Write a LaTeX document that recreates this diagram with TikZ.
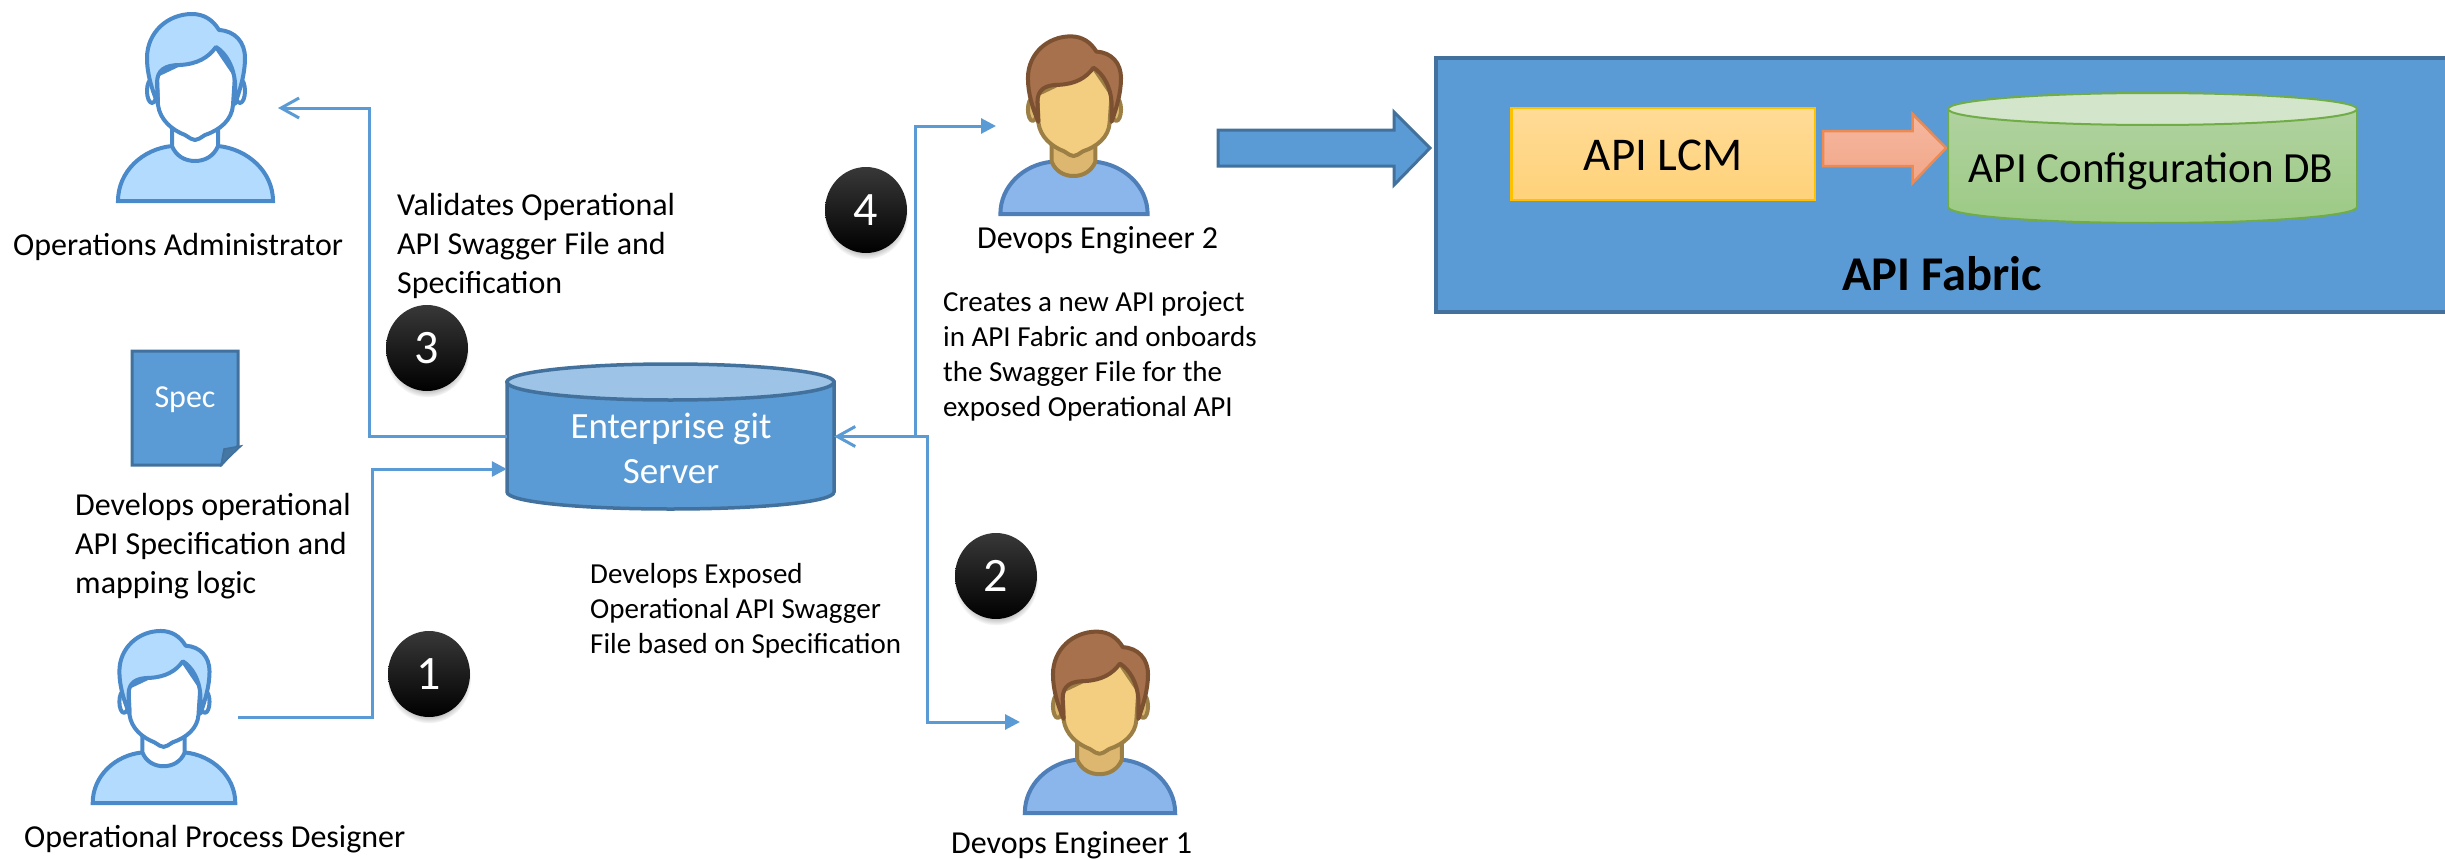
\documentclass[tikz,border=0pt]{standalone}
\usepackage{fontspec}
\setmainfont{Carlito}
\usetikzlibrary{arrows.meta,shapes.geometric,shadows,calc}
\definecolor{flow}{HTML}{5B9BD5}
\definecolor{flowdark}{HTML}{41719C}
\definecolor{admbody}{HTML}{B3DBFD}
\definecolor{admbodyl}{HTML}{4A8ACB}
\definecolor{admneck}{HTML}{FFFFFF}
\definecolor{admneckl}{HTML}{4A8ACB}
\definecolor{admface}{HTML}{FFFFFF}
\definecolor{admhair}{HTML}{B3DBFD}
\definecolor{admhairl}{HTML}{4A8ACB}
\definecolor{devbody}{HTML}{8AB6EC}
\definecolor{devbodyl}{HTML}{4E7FB8}
\definecolor{devneck}{HTML}{DDB76F}
\definecolor{devneckl}{HTML}{9C7F45}
\definecolor{devface}{HTML}{F3CD80}
\definecolor{devhair}{HTML}{A6714C}
\definecolor{devhairl}{HTML}{7C5131}
\definecolor{lcmtop}{HTML}{FFDB96}
\definecolor{lcmbot}{HTML}{FFD27A}
\definecolor{lcmline}{HTML}{FFC000}
\definecolor{ortop}{HTML}{F4B8A0}
\definecolor{orbot}{HTML}{F3A688}
\definecolor{orline}{HTML}{EC8A53}
\definecolor{grtop}{HTML}{B1D2A0}
\definecolor{grbot}{HTML}{9CCA85}
\definecolor{grline}{HTML}{70AD47}
\definecolor{grlid}{HTML}{D3E5CA}
\definecolor{gitlid}{HTML}{9DC3E6}
\tikzset{
  x=1pt,y=-1pt,
  person/.pic={
    \begin{scope}[shift={(-195.5,-201)},line width=4pt,line join=round]
      \path[fill=#1body,draw=#1bodyl,line join=miter] (118,201) .. controls (118,172) and (142,149) .. (172,146) -- (218,146) .. controls (248,149) and (273,172) .. (273,201) -- cycle;
      \path[fill=#1neck,draw=#1neckl] (172,128) -- (172,146) .. controls (176,156) and (185,161) .. (195,161) .. controls (205,161) and (214,156) .. (218,146) -- (218,128) -- cycle;
      \path[fill=#1neck,draw=#1neckl] (152,91) ellipse [x radius=5,y radius=12];
      \path[fill=#1neck,draw=#1neckl] (240,91) ellipse [x radius=5,y radius=12];
      \path[fill=#1face,draw=#1neckl] (157,75) -- (158,105) .. controls (160,120) and (172,130) .. (185,135) .. controls (190,138) and (192,140) .. (195,140) .. controls (198,140) and (200,138) .. (205,135) .. controls (220,130) and (232,120) .. (233,105) -- (235,75) -- (216,47) -- cycle;
      \path[fill=#1hair,draw=#1hairl] (158,104) .. controls (152,90) and (147,74) .. (147,58) .. controls (147,32) and (168,14) .. (192,14) .. controls (204,14) and (213,20) .. (219,30) .. controls (235,31) and (245,42) .. (245,58) .. controls (245,74) and (240,90) .. (235,104) -- (235,83) .. controls (234,67) and (226,53) .. (216,47) .. controls (208,58) and (197,64) .. (180,65) .. controls (165,65) and (157,70) .. (157,83) -- cycle;
    \end{scope}
  },
  flowline/.style={draw=flow,line width=3pt,line join=miter},
  filledtip/.style={-{Triangle[length=15pt,width=15pt]}},
  opentip/.style={-{Straight Barb[length=18pt,width=20pt,line width=3pt]}},
  label/.style={anchor=base west,align=left,inner sep=0pt,text=black},
  big/.style={font=\fontsize{32}{39}\selectfont},
  small/.style={font=\fontsize{29}{35}\selectfont},
  badge/.style={ellipse,minimum width=82pt,minimum height=86pt,inner sep=0pt,text=white,font=\fontsize{48}{48}\selectfont,top color=black!78,middle color=black,bottom color=black,
    circular drop shadow={shadow xshift=0pt,shadow yshift=-5pt,shadow scale=1.03,opacity=.45}},
  inbox/.style={inner sep=0pt,text=black,font=\fontsize{44}{50}\selectfont},
}
\begin{document}
\begin{tikzpicture}
\useasboundingbox (0,0) rectangle (2445,859);
% API Fabric
\path[fill=flow,draw=flowdark,line width=3.5pt] (1436,58) rectangle (2455,312);
\path[fill=flow,draw=flowdark,line width=3pt] (1218,130) -- (1394,130) -- (1394,112) -- (1430,148) -- (1394,185) -- (1394,166) -- (1218,166) -- cycle;
\path[top color=lcmtop,bottom color=lcmbot,draw=lcmline,line width=2.5pt] (1511.5,108) rectangle (1815,200);
\node[inbox,font=\fontsize{47}{50}\selectfont] (lcm) at (1663,155) {API LCM};
\path[top color=ortop,bottom color=orbot,draw=orline,line width=2.5pt] (1823,131) -- (1912.5,131) -- (1912.5,114) -- (1946,148) -- (1912.5,183) -- (1912.5,166) -- (1823,166) -- cycle;
\path[top color=grtop,bottom color=grbot,draw=grline,line width=2pt] (1948,109) -- (1948,207) .. controls (1948,216) and (2040,223) .. (2152,223) .. controls (2265,223) and (2357,216) .. (2357,207) -- (2357,109) -- cycle;
\path[fill=grlid,draw=grline,line width=2pt] (2152.5,109) ellipse [x radius=204.5,y radius=16];
\node[inbox,font=\fontsize{43}{50}\selectfont] (cfgdb) at (2151,171) {API Configuration DB};
\node[inbox,font=\fontsize{48.5}{50}\selectfont\bfseries] (fabric) at (1942,274) {API Fabric};
% git server
\path[fill=flow,draw=flowdark,line width=3.5pt] (507,382) -- (507,492) .. controls (507,502) and (580,509) .. (670.5,509) .. controls (761,509) and (834,502) .. (834,492) -- (834,382) -- cycle;
\path[fill=gitlid,draw=flowdark,line width=3.5pt] (670.5,382) ellipse [x radius=163.5,y radius=18];
\node[minimum width=327pt,minimum height=145pt,inner sep=0pt] (git) at (670.5,436.5) {};
\node[inner sep=0pt,align=center,text=white,font=\fontsize{37}{45}\selectfont] (gittext) at (671,448) {Enterprise git\\Server};
% spec
\path[fill=flow,draw=flowdark,line width=3pt] (132,351) -- (238,351) -- (238,446) -- (221,465) -- (132,465) -- cycle;
\path[fill=flowdark!85!flow,draw=flowdark,line width=1.5pt] (221,465) -- (224,449) -- (241,446) -- cycle;
\node[inner sep=0pt,text=white,font=\fontsize{32}{35}\selectfont] (spec) at (185,400) {Spec};
% people
\pic (admin) at (195.5,201) {person=adm};
\pic[scale=.92] (designer) at (164,803) {person=adm};
\pic[scale=.95] (devtwo) at (1074,214) {person=dev};
\pic[scale=.97] (devone) at (1100,813) {person=dev};
% connector ends
\coordinate (designerOut) at (238,717);
\coordinate (adminIn) at (278,108);
\coordinate (devoneIn) at (1020,722);
\coordinate (devtwoIn) at (996,126);
\coordinate (busL) at (372,600);
\coordinate (busA) at (369,300);
\coordinate (busO) at (927,600);
\coordinate (busT) at (915,300);
\draw[flowline,filledtip] (designerOut) -| (busL) |- ([yshift=-32.5pt]git.west);
\draw[flowline,opentip] (git.west) -| (busA) |- (adminIn);
\draw[flowline,{Triangle[length=15pt,width=15pt]}-{Straight Barb[length=18pt,width=20pt,line width=3pt]}] (devoneIn) -| (busO) |- (git.east);
\draw[flowline,filledtip] (git.east -| busT) -- (busT) |- (devtwoIn);
% badges
\node[badge] (b1) at (429,674) {1};
\node[badge] (b2) at (996,576) {2};
\node[badge] (b3) at (427,348) {3};
\node[badge] (b4) at (866,210) {4};
% labels
\node[label,big] (ladmin) at (13,255) {Operations Administrator};
\node[label,big] (ldesigner) at (24,847) {Operational Process Designer};
\node[label,big] (ldevtwo) at (977,248) {Devops Engineer 2};
\node[label,big] (ldevone) at (951,853) {Devops Engineer 1};
\node[label,big] (tvalid) at (397,293) {Validates Operational\\API Swagger File and\\Specification};
\node[label,big] (tspec) at (75,593) {Develops operational\\API Specification and\\mapping logic};
\node[label,small] (texposed) at (590,653) {Develops Exposed\\Operational API Swagger\\File based on Specification};
\node[label,small] (tcreates) at (943,416) {Creates a new API project\\in API Fabric and onboards\\the Swagger File for the\\exposed Operational API};
\end{tikzpicture}
\end{document}
